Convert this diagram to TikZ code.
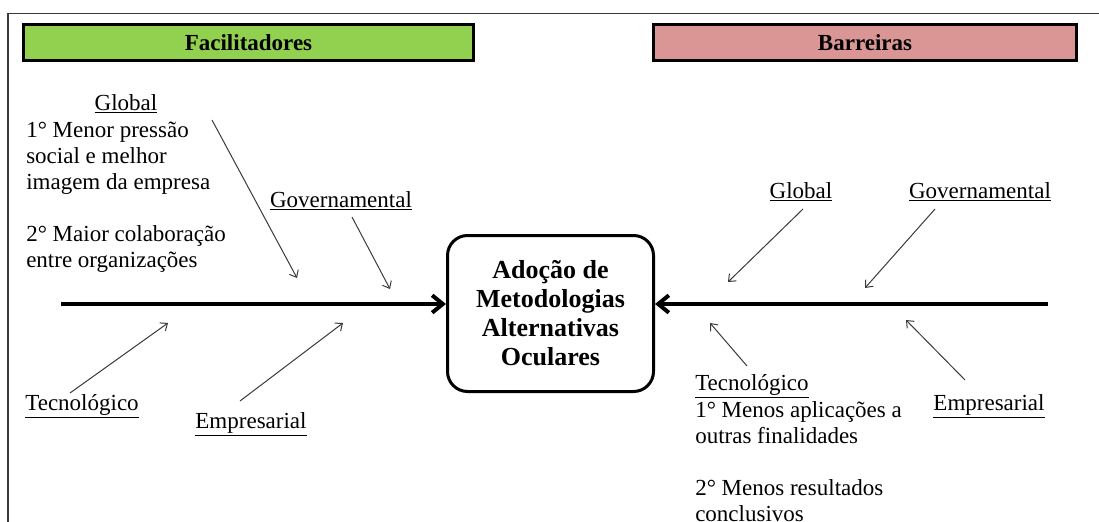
\documentclass[tikz,border=0pt]{standalone}
\usepackage{fontspec}
\setmainfont{Liberation Serif}
\usetikzlibrary{arrows.meta}
\definecolor{verdeFac}{HTML}{92D050}
\definecolor{rosaBar}{HTML}{D99694}
\definecolor{cinzaSeta}{HTML}{3A3A3A}
\tikzset{
  cab/.style={
    draw,
    rectangle,
    line width=2.25pt,
    minimum height=27pt,
    inner sep=0pt,
    font=\fontsize{17.25}{19.5}\selectfont\bfseries,
  },
  efeito/.style={
    draw,
    rectangle,
    rounded corners=15pt,
    line width=2.25pt,
    minimum width=154.5pt,
    minimum height=117pt,
    align=center,
    inner sep=0pt,
    font=\fontsize{19.5}{21.75}\selectfont\bfseries,
  },
  rotulo/.style={
    anchor=base,
    inner sep=0pt,
    font=\fontsize{17.25}{19.5}\selectfont,
  },
  bloco/.style={
    anchor=base west,
    align=left,
    inner sep=0pt,
    font=\fontsize{17.25}{19.5}\selectfont,
  },
  espinha/.style={
    line width=3pt,
    -{Straight Barb[length=8pt,width=13pt]},
  },
  seta/.style={
    draw=cinzaSeta,
    line width=0.75pt,
    -{Straight Barb[length=4.5pt,width=7.5pt]},
  },
  moldura/.style={
    draw=cinzaSeta,
    line width=1.1pt,
  },
}

\begin{document}
\begin{tikzpicture}[x=0.75pt,y=-0.75pt]
  \useasboundingbox (0,0) rectangle (1099,521);
  \draw[moldura] (1110,13.5) -| (8,530);

  % cabecalhos
  \node[cab, fill=verdeFac, minimum width=337.5pt] (facil) at (248.5,42.5) {Facilitadores};
  \node[cab, fill=rosaBar, minimum width=317.25pt] (barr) at (865,42.5) {Barreiras};

  % efeito e espinha
  \node[efeito] (adocao) at (550.5,313.5) {Adoção de\\Metodologias\\Alternativas\\Oculares};
  \coordinate (espE) at (61,304);
  \coordinate (espD) at (1048,304);
  \draw[espinha] (espE) -- (espE -| adocao.west);
  \draw[espinha] (espD) -- (espD -| adocao.east);

  % facilitadores (bloco ancorado na ultima linha)
  \node[rotulo] (globF) at (126,110) {\underline{Global}};
  \node[bloco] (globFtxt) at (26,267) {1° Menor pressão\\social e melhor\\imagem da empresa\\[19.5pt]2° Maior colaboração\\entre organizações};
  \node[rotulo] (govF) at (341,207) {\underline{Governamental}};
  \node[rotulo] (tecF) at (82,410) {\underline{Tecnológico}};
  \node[rotulo] (empF) at (251,428) {\underline{Empresarial}};

  \coordinate (globF1) at (212,120);
  \coordinate (globF2) at (297,278);
  \coordinate (govF1) at (352,217);
  \coordinate (govF2) at (390,289);
  \coordinate (tecF1) at (70,393);
  \coordinate (tecF2) at (168,323);
  \coordinate (empF1) at (240,401);
  \coordinate (empF2) at (343,323);
  \draw[seta] (globF1) -- (globF2);
  \draw[seta] (govF1) -- (govF2);
  \draw[seta] (tecF1) -- (tecF2);
  \draw[seta] (empF1) -- (empF2);

  % barreiras
  \node[rotulo] (globB) at (801,198) {\underline{Global}};
  \node[rotulo] (govB) at (980,198) {\underline{Governamental}};
  \node[rotulo, anchor=base west] (tecB) at (695,390) {\underline{Tecnológico}};
  \node[bloco] (tecBtxt) at (695,521) {1° Menos aplicações a\\outras finalidades\\[19.5pt]2° Menos resultados\\conclusivos};
  \node[rotulo] (empB) at (989,410) {\underline{Empresarial}};

  \coordinate (globB1) at (803,209);
  \coordinate (globB2) at (728,282);
  \coordinate (govB1) at (935,209);
  \coordinate (govB2) at (865,288);
  \coordinate (tecB1) at (747,366);
  \coordinate (tecB2) at (710,323);
  \coordinate (empB1) at (965,380);
  \coordinate (empB2) at (906,320);
  \draw[seta] (globB1) -- (globB2);
  \draw[seta] (govB1) -- (govB2);
  \draw[seta] (tecB1) -- (tecB2);
  \draw[seta] (empB1) -- (empB2);
\end{tikzpicture}
\end{document}
